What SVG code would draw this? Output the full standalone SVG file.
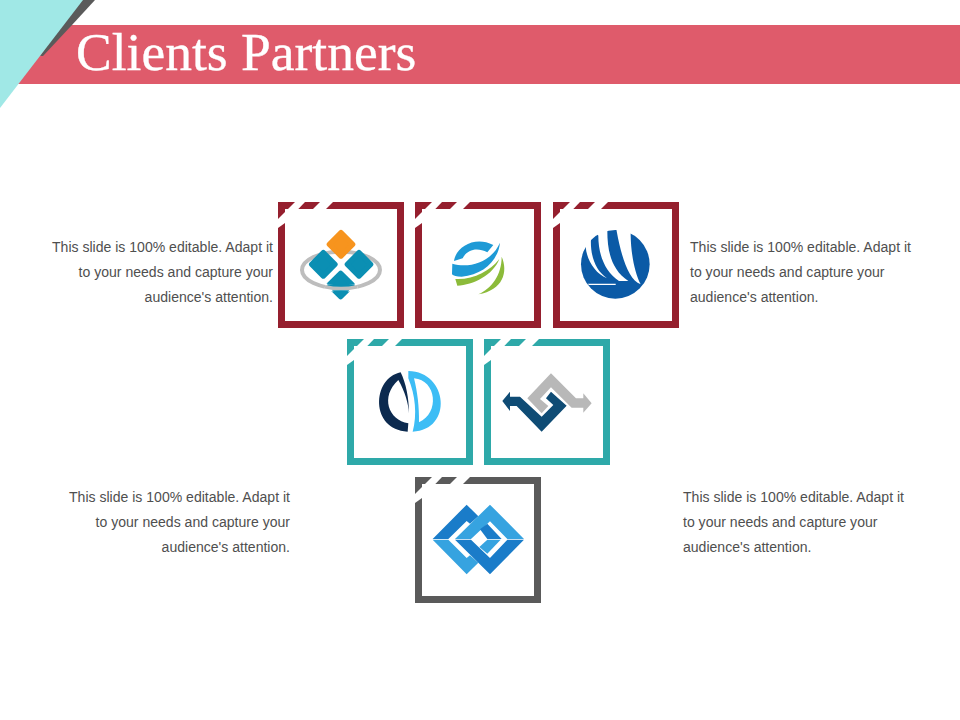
<svg xmlns="http://www.w3.org/2000/svg" width="960" height="720" viewBox="0 0 960 720">
<style>
.body{font-family:"Liberation Sans",Arial,sans-serif;font-size:14.05px;fill:#4f4f4f}
.r{text-anchor:end}
.title{font-family:"Liberation Serif","Times New Roman",serif;font-size:53.5px;fill:#fff;stroke:#fff;stroke-width:.35}
.red{color:#951f2e}.teal{color:#2ea9a9}.gray{color:#5a5a5a}
</style>
<defs>
<g id="frame">
<rect x="3.5" y="3.5" width="119" height="119" fill="#fff" stroke="currentColor" stroke-width="7"/>
<polygon points="17,0 27,0 7,21 0,26 0,17" fill="#fff"/>
<polygon points="42,0 55,0 48,7 35,7" fill="#fff"/>
</g>
</defs>
<rect width="960" height="720" fill="#fff"/>
<g id="header">
<polygon points="60,25 960,25 960,84 15,84" fill="#df5b6b"/>
<polygon points="78,0 95,0 72,25 43,56 40,56" fill="#5a5a5a"/>
<polygon points="0,0 83,0 0,108" fill="#a0e8e6"/>
<text class="title" x="76" y="70">Clients Partners</text>
</g>
<g id="text-top-left">
<text class="body r" x="273" y="252">This slide is 100% editable. Adapt it</text>
<text class="body r" x="273" y="277">to your needs and capture your</text>
<text class="body r" x="273" y="302">audience's attention.</text>
</g>
<g id="text-top-right">
<text class="body" x="690" y="252">This slide is 100% editable. Adapt it</text>
<text class="body" x="690" y="277">to your needs and capture your</text>
<text class="body" x="690" y="302">audience's attention.</text>
</g>
<g id="text-bottom-left">
<text class="body r" x="290" y="502">This slide is 100% editable. Adapt it</text>
<text class="body r" x="290" y="527">to your needs and capture your</text>
<text class="body r" x="290" y="552">audience's attention.</text>
</g>
<g id="text-bottom-right">
<text class="body" x="683" y="502">This slide is 100% editable. Adapt it</text>
<text class="body" x="683" y="527">to your needs and capture your</text>
<text class="body" x="683" y="552">audience's attention.</text>
</g>
<g id="connectors"></g>
<g id="node-1">
<use href="#frame" class="red" x="278" y="202"/>
<g transform="translate(270,195) scale(.3333)">
<ellipse cx="213" cy="225" rx="117" ry="55" fill="none" stroke="#bdbdbd" stroke-width="12"/>
<g stroke-linejoin="round" stroke-width="16">
<polygon points="213,113 248,148 213,183 178,148" fill="#f7941e" stroke="#f7941e"/>
<g fill="#0b8fb3" stroke="#0b8fb3">
<polygon points="160,173 195,208 160,243 125,208"/>
<polygon points="267,173 302,208 267,243 232,208"/>
<polygon points="212,235 247,270 212,305 177,270"/>
</g>
</g>
<path d="M165,275 Q213,287 262,275" fill="none" stroke="#fff" stroke-width="20"/>
<path d="M172,274 Q213,284 254,274 L254,268 L172,268Z" fill="#0b8fb3"/>
<path d="M165,275 Q213,287 262,275" fill="none" stroke="#bdbdbd" stroke-width="11"/>
<polygon points="186,286 238,286 212,312" fill="#0b8fb3"/>
</g>
</g>
<g id="node-2">
<use href="#frame" class="red" x="415" y="202"/>
<g transform="translate(270,195) scale(.3333)">
<path d="M552,198 C558,155 615,122 670,150 L652,172 C620,155 590,165 578,190Z" fill="#1e9ad6"/>
<path d="M690,143 C685,195 640,240 575,245 C560,245 550,242 546,238 L547,206 C600,222 665,200 690,143Z" fill="#1e9ad6"/>
<path d="M556,252 C610,255 660,228 688,192 C670,240 610,270 562,272Z" fill="#8cbb3a"/>
<path d="M625,298 C665,280 695,240 695,185 C715,230 700,285 625,298Z" fill="#8cbb3a"/>
</g>
</g>
<g id="node-3">
<use href="#frame" class="red" x="553" y="202"/>
<g transform="translate(545,195) scale(.3333)">
<circle cx="211" cy="208" r="103" fill="#0b5aa6"/>
<path d="M215,100 L257,100 L257,120 C258,180 270,235 287,268 C250,255 228,180 215,108Z" fill="#fff"/>
<path d="M187,100 L187,108 C187,170 200,225 250,258 L222,258 C180,230 160,180 160,122 L150,100Z" fill="#fff"/>
<path d="M138,128 C135,180 150,225 186,250 C150,235 125,195 122,155 L115,130Z" fill="#fff"/>
<path d="M128,266 L212,266 L212,270 L132,270Z" fill="#fff"/>
</g>
</g>
<g id="node-4">
<use href="#frame" class="teal" x="347" y="339"/>
<g transform="translate(340,335) scale(.3333)">
<path d="M182,112 C95,130 90,285 203,290 L205,265 C145,255 120,185 175,135 C195,170 205,205 207,235 C207,190 198,145 182,112Z" fill="#0c2a4f"/>
<path fill-rule="evenodd" d="M205,108 C325,110 340,285 218,290 C232,240 226,180 205,130Z M222,130 C290,135 300,235 237,262 C238,215 232,170 222,130Z" fill="#3dbdf5"/>
</g>
</g>
<g id="node-5">
<use href="#frame" class="teal" x="484" y="339"/>
<g transform="translate(340,335) scale(.3333)">
<polygon points="562,190 633,115 708,190 730,190 730,175 755,205 730,233 730,218 695,218 633,157 600,192 625,213 605,235" fill="#b8b8b8"/>
<polygon points="487,198 510,170 510,185 540,185 605,245 640,210 618,190 633,170 680,212 605,290 530,213 510,213 510,228" fill="#0f4c75"/>
</g>
</g>
<g id="node-6">
<use href="#frame" class="gray" x="415" y="477"/>
<g transform="translate(410,472) scale(.3333)">
<polygon points="68,201 170,98 205,133 180,155 170,147 115,201" fill="#1a7cc9"/>
<polygon points="68,203 170,307 205,272 180,250 170,258 115,203" fill="#36a3e0"/>
<polygon points="135,201 240,98 342,201 292,201 240,148 183,201" fill="#36a3e0"/>
<polygon points="210,172 232,155 275,201 232,201" fill="#1a7cc9"/>
<polygon points="135,203 183,203 240,258 292,203 342,203 240,307" fill="#1a7cc9"/>
<polygon points="232,203 272,203 232,245 208,225" fill="#36a3e0"/>
</g>
</g>
</svg>
